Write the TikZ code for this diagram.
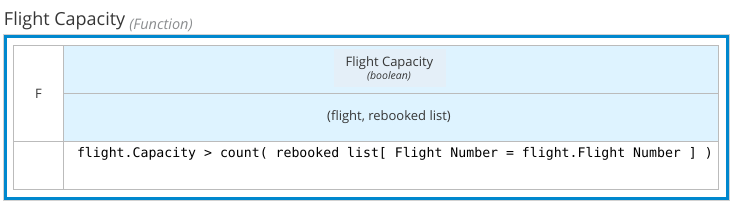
\documentclass[tikz,border=0pt]{standalone}
\usepackage{fontspec}
\setmainfont{Open Sans}[Ligatures=NoCommon]
\setmonofont{DejaVu Sans Mono}
\usetikzlibrary{positioning}

\definecolor{dmnblue}{HTML}{0088CE}
\definecolor{gridgrey}{HTML}{BBBBBB}
\definecolor{framegrey}{HTML}{D2D2D2}
\definecolor{cellblue}{HTML}{DEF3FF}
\definecolor{nameblue}{HTML}{E4EFF8}
\definecolor{textgrey}{HTML}{363636}
\definecolor{typegrey}{HTML}{8B8D8F}

\begin{document}
\begin{tikzpicture}[x=1pt, y=-1pt, inner sep=0pt, outer sep=0pt]
    \tikzstyle{cell} = [rectangle, draw=gridgrey, line width=1pt, anchor=north west]
    \tikzstyle{label} = [text=textgrey, font=\fontsize{13}{15}\selectfont]
    \tikzstyle{typeref} = [text=textgrey, font=\fontsize{10.5}{12}\selectfont\itshape]

    \useasboundingbox (0,0) rectangle (732,204);

    % title
    \node [anchor=base west, text=textgrey, font=\fontsize{18}{21}\selectfont] (title) at (4,25) {Flight Capacity};
    \node [anchor=base west, right=4pt of title.base east, text=typegrey, font=\fontsize{14.5}{17}\selectfont\itshape] (kind) {(Function)};

    % frame
    \draw [framegrey, line width=1pt] (3.5,34.5) rectangle (729.5,200.5);
    \draw [dmnblue, line width=3pt] (5.5,36.5) rectangle (727.5,198.5);

    % table cells
    \node [cell, minimum width=50pt, minimum height=96pt] (fcell) at (13.5,45.5) {};
    \node [cell, fill=cellblue, minimum width=655pt, minimum height=48pt] (outcell) at (63.5,45.5) {};
    \node [cell, fill=cellblue, minimum width=655pt, minimum height=48pt] (parcell) at (63.5,93.5) {};
    \node [cell, minimum width=50pt, minimum height=48pt] (rowcell) at (13.5,141.5) {};
    \node [cell, minimum width=655pt, minimum height=48pt] (bodycell) at (63.5,141.5) {};

    % texts
    \node [fill=nameblue, minimum width=112pt, minimum height=38pt] (namebox) at (390,68) {};
    \node [label, anchor=base] (outname) at (389.5,66.5) {Flight Capacity};
    \node [typeref, anchor=base] (outtype) at (389,79.5) {(boolean)};
    \node [label, anchor=base] (params) at (389,120) {(flight, rebooked list)};
    \node [label, anchor=base] (fkind) at (38.5,98) {F};
    \node [anchor=base west, text=black, font=\fontsize{13.2}{15}\ttfamily] (body) at (77,157.5)
        {flight.Capacity > count( rebooked list[ Flight Number = flight.Flight Number ] )};
\end{tikzpicture}
\end{document}
